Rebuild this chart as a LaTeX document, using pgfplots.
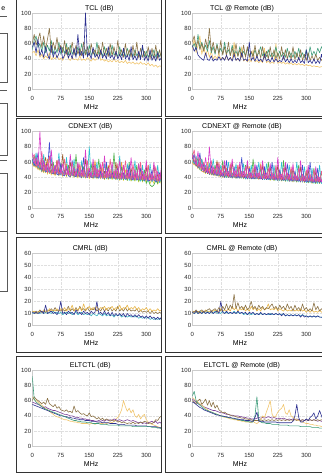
\documentclass[border=0pt]{standalone}
\usepackage{fontspec}
\setmainfont{Liberation Sans}
\usepackage{pgfplots}
\pgfplotsset{compat=1.18}
\usepackage{pgfplotstable}
\definecolor{cnavy}{HTML}{2C2F8F}
\definecolor{cbrown}{HTML}{8B7245}
\definecolor{cgreen}{HTML}{3E9C7A}
\definecolor{cyellow}{HTML}{F0C56C}
\definecolor{cpurple}{HTML}{7B3F98}
\definecolor{cmag}{HTML}{D83CC8}
\definecolor{cpink}{HTML}{EE5A8A}
\definecolor{ccyan}{HTML}{2CC0D0}
\definecolor{cgrn}{HTML}{4DB04A}
\definecolor{corange}{HTML}{F29A38}
\definecolor{cyel}{HTML}{E6D23C}
\definecolor{cblue}{HTML}{3F4FD0}
\definecolor{cbrn}{HTML}{9A5B2E}
\definecolor{cgold}{HTML}{E8B548}
\definecolor{cteal}{HTML}{3AB0C0}

\pgfplotstableread{
x a b c d
0 55 60 52 48
5 62 72 64 50
10 48 58 70 44
15 66 65 55 52
20 44 74 60 42
25 52 55 50 46
30 42 70 62 40
35 56 52 48 44
40 45 66 58 41
45 40 80 50 48
50 58 48 64 39
55 42 62 46 42
60 50 52 56 40
65 41 68 48 45
70 47 50 62 39
75 56 58 46 41
80 40 48 55 38
85 45 64 47 43
90 52 46 60 56
95 41 55 45 40
100 48 47 58 38
105 40 62 46 42
110 54 45 52 39
115 42 58 44 40
120 72 46 56 38
125 44 54 45 44
130 50 44 60 38
135 41 62 46 40
140 100 45 52 38
145 43 56 44 42
150 48 44 58 39
155 40 60 45 37
160 55 46 50 41
165 42 52 44 38
170 46 44 62 40
175 40 58 46 52
180 52 45 50 38
185 41 62 44 40
190 47 44 56 37
195 40 54 45 39
200 56 43 50 36
205 41 60 44 38
210 45 44 58 36
215 39 56 45 40
220 50 43 48 36
225 40 64 43 38
230 46 44 56 35
235 39 52 44 37
240 54 42 50 35
245 40 60 43 38
250 45 43 54 34
255 38 52 44 36
260 56 42 48 34
265 39 58 43 36
270 44 42 52 33
275 38 62 44 35
280 50 41 48 33
285 39 54 42 36
290 58 42 56 33
295 38 50 43 34
300 44 41 50 32
305 37 56 42 35
310 52 40 48 31
315 38 54 43 33
320 44 40 52 30
325 37 58 42 32
330 48 40 50 29
335 38 52 43 31
340 42 40 48 30
345 37 50 60 29
350 40 42 45 30
}\tclL

\pgfplotstableread{
x a b c d
0 58 62 55 52
5 50 70 60 66
10 55 56 52 48
15 45 64 72 58
20 42 52 54 70
25 40 60 62 46
30 38 50 52 56
35 48 66 58 44
40 39 54 50 52
45 38 80 64 42
50 44 50 48 50
55 37 62 56 40
60 40 48 46 44
65 38 58 60 40
70 43 46 48 47
75 38 64 54 39
80 42 45 46 42
85 38 56 62 39
90 45 44 47 44
95 38 62 52 38
100 42 44 45 41
105 37 54 58 38
110 46 43 46 62
115 38 60 50 38
120 41 43 44 40
125 37 52 56 37
130 48 42 45 56
135 38 58 50 37
140 40 42 44 40
145 37 56 54 36
150 62 42 44 40
155 38 50 48 36
160 42 42 44 52
165 37 58 52 36
170 44 41 44 38
175 37 52 48 35
180 40 41 56 38
185 36 56 44 35
190 46 41 48 54
195 37 50 43 35
200 40 40 52 37
205 36 56 43 34
210 42 40 48 36
215 36 52 43 34
220 40 40 56 60
225 36 48 43 34
230 38 40 50 36
235 36 56 43 34
240 44 40 48 36
245 36 52 42 33
250 40 40 54 35
255 35 50 42 33
260 40 39 48 35
265 35 56 42 32
270 38 39 50 34
275 35 48 42 32
280 42 39 54 34
285 35 52 42 32
290 38 38 48 33
295 34 46 42 31
300 52 38 52 33
305 35 48 42 31
310 38 38 56 32
315 34 44 44 30
320 40 38 50 31
325 34 46 44 30
330 38 38 54 30
335 34 42 48 29
340 46 38 56 30
345 34 42 50 29
350 38 38 52 30
}\tclR

\pgfplotstableread{
x a b c d e f g h
0 72 66 62 60 58 56 64 60
5 58 70 55 68 54 60 57 55
10 66 54 72 54 62 52 55 68
15 54 62 52 58 50 64 72 52
20 100 52 58 50 56 49 52 60
25 50 74 48 64 47 56 50 48
30 62 48 70 47 52 46 62 56
35 49 56 47 56 46 58 48 66
40 58 46 52 46 64 44 47 47
45 47 68 46 52 45 54 86 50
50 76 45 66 45 50 43 46 58
55 46 52 45 60 44 56 45 46
60 56 44 50 44 48 42 56 44
65 45 62 44 50 62 52 44 62
70 64 44 72 43 46 42 43 45
75 44 50 43 58 44 54 58 44
80 58 43 48 43 47 41 43 70
85 43 64 43 48 43 50 42 44
90 54 43 66 42 58 41 54 52
95 43 48 42 56 42 52 42 43
100 70 42 47 42 45 40 41 60
105 42 60 42 46 42 50 62 43
110 52 42 64 41 56 40 42 48
115 42 48 41 70 41 48 41 42
120 60 41 46 41 44 39 52 58
125 41 58 41 46 41 54 41 42
130 50 41 62 40 60 39 40 46
135 41 50 40 54 40 46 66 41
140 76 40 46 40 44 39 41 64
145 40 62 40 46 40 52 40 41
150 52 40 80 40 52 38 50 45
155 40 46 40 58 40 46 40 40
160 64 40 46 39 44 38 40 58
165 40 56 39 46 62 50 56 40
170 52 40 60 39 42 38 40 46
175 40 50 39 64 40 46 39 40
180 58 39 45 39 50 38 48 56
185 39 60 39 44 39 52 39 40
190 68 39 58 38 42 37 39 48
195 39 48 38 56 39 44 60 39
200 52 39 44 38 56 37 40 54
205 39 64 38 44 39 50 39 40
210 60 39 56 38 42 37 46 46
215 39 48 38 72 39 44 39 39
220 50 38 44 37 48 37 39 60
225 38 58 37 44 38 48 54 39
230 62 38 68 37 41 36 38 45
235 38 46 37 54 60 42 38 38
240 56 38 43 37 40 36 46 56
245 38 62 37 42 38 50 38 39
250 50 38 58 36 46 36 38 46
255 38 46 36 60 38 42 56 38
260 66 37 42 36 40 35 38 52
265 37 58 36 42 37 46 37 38
270 50 37 62 36 52 35 44 44
275 37 46 36 56 37 42 37 37
280 58 37 42 35 40 34 37 58
285 37 60 35 40 36 48 52 37
290 48 37 56 35 44 34 37 44
295 37 44 35 50 36 40 36 36
300 62 36 40 32 38 33 42 54
305 36 56 34 38 56 44 36 36
310 46 36 58 30 40 32 36 44
315 36 44 34 28 35 38 50 35
320 60 36 40 30 42 32 36 56
325 36 54 34 36 35 42 35 35
330 48 35 56 32 38 31 35 44
335 35 44 33 46 34 38 46 35
340 54 35 40 34 40 31 35 50
345 35 52 33 38 34 40 34 34
350 44 35 50 34 36 31 40 42
}\cdL

\pgfplotstableread{
x a b c d e f g h
0 70 66 62 72 60 58 64 68
5 62 76 58 60 56 62 70 58
10 56 58 68 55 64 54 56 62
15 74 54 54 66 52 58 54 52
20 52 66 52 50 60 50 72 56
25 58 50 64 49 48 56 49 64
30 48 60 48 58 47 48 58 47
35 66 47 56 46 54 45 46 52
40 46 54 46 52 45 60 50 45
45 80 45 58 44 52 44 44 58
50 45 62 44 50 43 48 56 44
55 54 44 64 43 48 43 43 50
60 44 52 43 56 42 54 48 43
65 58 43 50 42 60 42 42 62
70 43 60 42 48 41 46 56 42
75 50 42 56 41 46 41 41 48
80 42 56 41 62 40 52 46 41
85 62 42 48 40 44 40 40 56
90 42 50 40 46 52 44 62 40
95 48 41 60 40 42 40 40 46
100 41 58 40 54 40 50 44 40
105 64 41 46 40 44 39 39 60
110 41 48 40 46 40 46 54 40
115 50 40 58 39 42 39 39 44
120 40 56 39 52 56 44 42 39
125 60 40 44 39 40 39 39 56
130 40 48 39 46 40 48 66 39
135 48 40 58 39 42 38 39 44
140 40 54 38 56 40 44 42 38
145 62 39 44 38 40 38 38 58
150 39 46 38 44 54 46 52 38
155 46 39 56 38 40 38 38 44
160 39 52 38 64 39 42 40 38
165 58 39 44 38 42 38 38 54
170 39 46 38 44 39 46 56 38
175 46 38 60 38 40 37 38 42
180 38 56 38 52 58 42 40 38
185 62 38 44 37 40 37 37 56
190 38 46 37 44 39 50 54 37
195 46 38 58 37 40 37 37 42
200 38 52 37 60 38 42 40 37
205 58 38 44 37 42 36 37 54
210 38 46 37 44 38 46 60 37
215 44 37 56 36 40 36 37 42
220 37 56 36 50 52 42 40 37
225 66 37 42 36 38 36 36 56
230 37 46 36 44 38 48 50 36
235 44 37 60 36 38 35 36 42
240 37 52 36 62 37 40 38 36
245 60 37 42 35 40 35 36 54
250 37 46 35 42 37 44 58 36
255 44 36 56 35 38 35 35 42
260 36 54 35 50 50 40 38 35
265 58 36 42 35 38 34 35 52
270 36 44 35 42 36 46 48 35
275 42 36 60 34 38 34 35 40
280 36 52 34 56 36 40 38 35
285 62 35 42 34 38 34 34 54
290 35 44 34 40 36 44 56 34
295 42 35 54 34 36 33 34 40
300 35 50 33 46 48 38 36 34
305 56 35 40 33 36 33 34 50
310 35 44 33 40 35 42 60 34
315 40 34 52 33 36 32 33 40
320 34 50 32 52 35 38 36 33
325 54 34 40 32 36 32 33 48
330 34 42 32 40 35 40 52 33
335 40 34 56 32 36 32 33 38
340 34 48 32 48 34 38 36 33
345 50 34 40 32 36 31 33 46
350 34 42 32 40 34 36 48 33
}\cdR

\pgfplotstableread{
x a b c d
0 11 12 11 10
5 10 11 12 11
10 11 12 10 10
15 10 11 11 11
20 11 13 12 10
25 12 11 11 11
30 10 12 13 10
35 17 11 12 11
40 10 13 11 10
45 11 12 14 11
50 12 14 12 10
55 10 12 13 12
60 11 15 12 10
65 9 12 14 11
70 12 13 12 10
75 20 12 14 11
80 10 14 12 9
85 11 12 15 10
90 9 13 12 11
95 12 16 14 10
100 10 12 13 11
105 11 14 17 9
110 9 12 12 10
115 13 15 14 11
120 10 12 13 9
125 11 16 15 10
130 9 13 12 11
135 12 14 18 9
140 10 12 13 10
145 11 15 14 9
150 9 12 16 10
155 12 14 13 8
160 10 13 15 10
165 11 15 13 9
170 20 12 16 8
175 10 14 13 10
180 11 12 15 9
185 9 15 14 8
190 12 12 16 10
195 9 14 13 8
200 11 12 15 9
205 8 15 14 8
210 11 12 16 9
215 8 14 13 7
220 10 12 15 9
225 8 16 14 8
230 10 12 17 9
235 8 14 13 7
240 10 12 15 8
245 7 15 14 8
250 10 12 17 7
255 8 14 13 8
260 9 12 15 7
265 7 13 14 8
270 9 12 16 7
275 7 14 13 8
280 9 11 15 6
285 7 13 12 7
290 8 11 14 6
295 6 12 13 7
300 8 11 15 6
305 6 12 12 7
310 8 10 14 5
315 6 12 12 6
320 7 10 13 5
325 5 11 12 6
330 7 10 14 5
335 5 11 12 6
340 7 10 13 5
345 5 11 12 6
350 6 10 13 5
}\cmL

\pgfplotstableread{
x a b c d
0 11 12 10 11
5 10 11 12 10
10 12 13 11 11
15 10 11 12 10
20 11 12 10 12
25 10 13 12 10
30 12 11 11 11
35 10 12 13 10
40 11 13 11 12
45 10 14 12 10
50 12 12 11 11
55 10 13 12 10
60 11 14 13 12
65 12 12 11 10
70 10 15 12 11
75 20 12 14 10
80 11 16 12 12
85 10 13 13 10
90 12 18 12 11
95 10 13 14 10
100 11 17 12 11
105 10 14 16 10
110 11 26 13 12
115 10 14 15 10
120 12 19 12 11
125 10 14 14 10
130 11 16 13 11
135 10 13 15 9
140 11 17 12 10
145 9 13 14 9
150 11 15 12 10
155 10 20 16 9
160 11 14 13 10
165 9 16 15 9
170 10 13 12 10
175 9 17 14 9
180 11 14 12 10
185 9 16 15 9
190 10 13 13 10
195 9 15 14 9
200 10 14 18 9
205 9 16 13 10
210 10 18 14 9
215 9 14 13 9
220 10 16 15 10
225 9 13 12 9
230 10 17 14 9
235 8 14 13 9
240 10 16 12 10
245 8 13 14 8
250 9 18 12 9
255 8 14 13 8
260 9 16 12 9
265 8 12 14 8
270 9 17 12 9
275 8 13 13 8
280 9 15 12 9
285 7 12 14 8
290 9 18 12 9
295 7 13 13 8
300 8 15 11 8
305 7 12 13 7
310 8 14 11 8
315 7 12 13 7
320 8 19 11 8
325 7 13 12 7
330 8 16 11 8
335 7 12 13 7
340 7 14 11 7
345 6 12 12 6
350 7 13 11 7
}\cmR

\pgfplotstableread{
x a b c d e
0 92 60 55 58 65
5 62 65 54 57 62
10 58 62 53 56 60
15 56 60 52 55 58
20 54 58 51 54 56
25 52 56 50 52 54
30 50 58 49 51 52
35 49 55 48 52 50
40 48 63 47 50 48
45 47 56 46 49 46
50 46 54 45 48 44
55 45 52 44 47 42
60 44 55 43 47 40
65 43 50 42 46 39
70 42 52 41 45 38
75 41 48 40 44 37
80 40 47 40 43 36
85 39 46 39 42 35
90 38 48 39 42 35
95 37 45 38 41 34
100 36 46 38 40 33
105 35 44 37 40 33
110 34 53 37 39 32
115 34 45 36 38 32
120 33 47 36 38 31
125 33 44 35 37 31
130 32 42 35 37 30
135 32 43 35 36 30
140 32 41 34 36 30
145 31 40 34 35 30
150 31 44 34 35 29
155 31 39 33 34 30
160 30 40 33 34 30
165 30 38 33 33 29
170 30 36 32 33 30
175 30 38 32 34 31
180 29 35 32 33 30
185 29 37 31 34 30
190 29 34 31 33 31
195 29 36 31 35 30
200 28 35 31 34 31
205 28 33 30 35 32
210 28 35 30 34 31
215 28 33 30 36 33
220 28 34 30 35 36
225 28 32 29 34 38
230 27 33 29 35 42
235 27 31 29 34 48
240 27 32 29 33 60
245 27 31 28 34 52
250 27 30 28 35 46
255 27 31 28 34 50
260 27 30 28 33 44
265 26 32 28 34 48
270 26 30 28 33 40
275 26 31 27 32 38
280 26 30 27 31 42
285 26 32 27 32 36
290 26 31 27 30 40
295 26 33 27 31 42
300 26 32 27 30 35
305 26 30 26 31 32
310 26 31 26 32 30
315 25 30 26 33 29
320 25 32 26 31 28
325 25 35 26 33 27
330 24 34 25 30 26
335 24 38 25 32 25
340 23 40 25 30 24
345 23 42 25 33 23
350 22 38 24 31 22
}\elL

\pgfplotstableread{
x a b c d e
0 66 60 58 62 64
5 72 58 57 60 62
10 60 56 55 58 60
15 56 60 53 56 58
20 54 62 51 55 56
25 52 55 50 54 54
30 50 58 48 52 52
35 48 62 47 51 50
40 47 54 46 50 48
45 46 60 45 49 46
50 45 52 44 48 45
55 44 58 43 47 44
60 43 50 42 47 43
65 42 54 41 46 42
70 41 48 41 45 41
75 40 46 40 44 40
80 39 44 40 44 39
85 39 45 39 43 38
90 38 43 39 42 38
95 38 42 38 42 37
100 37 41 38 41 36
105 37 40 37 41 36
110 36 40 37 40 35
115 36 39 36 40 35
120 35 38 36 40 34
125 35 38 35 39 34
130 34 37 35 39 33
135 34 37 35 38 33
140 33 36 34 38 32
145 33 36 34 37 32
150 32 35 34 37 32
155 32 35 33 36 31
160 32 34 33 36 33
165 40 34 38 36 31
170 65 34 45 37 30
175 36 34 33 38 32
180 32 35 33 37 35
185 31 34 33 38 40
190 31 35 32 37 38
195 30 34 32 38 45
200 30 35 32 39 52
205 30 34 32 38 60
210 29 35 32 37 42
215 29 34 32 38 38
220 29 35 32 37 40
225 29 34 31 36 45
230 28 35 31 37 48
235 28 34 31 36 50
240 28 35 31 37 55
245 28 34 31 36 44
250 28 35 31 35 42
255 27 34 31 36 48
260 27 35 31 35 40
265 27 34 33 36 38
270 27 35 40 35 36
275 27 34 55 36 35
280 27 35 38 35 34
285 26 34 32 34 33
290 26 35 32 35 32
295 26 34 34 34 31
300 26 35 36 35 30
305 26 34 34 34 30
310 26 35 38 35 29
315 25 34 40 34 29
320 25 35 44 35 28
325 25 34 36 34 28
330 25 35 40 33 27
335 24 34 47 34 27
340 24 35 40 33 26
345 24 34 34 32 26
350 23 35 36 32 25
}\elR

\pgfplotsset{
  base/.style={
    anchor=south west, scale only axis, width=136.8pt, height=76.5pt,
    xmin=0, xmax=360, ymin=0, ymax=100,
    xtick={0,75,150,225,300}, ytick={0,20,40,60,80,100},
    grid=major, major grid style={gray!25, densely dotted, line width=0.4pt},
    axis line style={gray!40, line width=0.4pt},
    major tick length=0pt,
    tick label style={font=\fontsize{6}{7}\selectfont, text=black!85},
    xticklabel style={yshift=-3pt},
    yticklabel style={inner sep=1pt},
    /pgf/number format/assume math mode=true,
    xlabel={MHz},
    xlabel style={font=\fontsize{7}{8}\selectfont, anchor=north, inner sep=0pt, yshift=-14.5pt},
    title style={font=\fontsize{7}{8}\selectfont, anchor=south, inner sep=1pt, yshift=-6pt},
    every axis plot/.append style={line width=0.6pt, mark=none, line join=round},
  },
  lcol/.style={base, title style={at={(axis description cs:#1,1)}}, xlabel style={at={(axis description cs:0.43,0)}}},
  rcol/.style={base, title style={at={(axis description cs:0.363,1)}}, xlabel style={at={(axis description cs:0.349,0)}}},
  cmrl/.style={ymax=60, ytick={0,10,20,30,40,50,60}, height=72pt},
}

\begin{document}
\begin{tikzpicture}
\path[use as bounding box] (0pt,0pt) rectangle (321pt,473pt);
% left strip (partial panels)
\begin{scope}[draw=black!65, line width=0.6pt]
\draw (0pt,457pt) -- (7pt,457pt);
\draw (0pt,440pt) -- (7pt,440pt) -- (7pt,391pt) -- (0pt,391pt);
\draw (0pt,383pt) -- (7pt,383pt);
\draw (0pt,370pt) -- (7pt,370pt) -- (7pt,318pt) -- (0pt,318pt);
\draw (0pt,313pt) -- (7pt,313pt);
\draw (0pt,300pt) -- (7pt,300pt) -- (7pt,182pt) -- (0pt,182pt);
\draw (0pt,242pt) -- (7pt,242pt);
\end{scope}
\node[anchor=base east, font=\fontsize{7}{8}\selectfont, inner sep=0pt] at (5.5pt,462pt) {e};

% left column
\begin{scope}
\clip (16.3pt,0pt) rectangle (161.3pt,473pt);
\begin{axis}[lcol=0.49, at={(32.3pt,383.5pt)}, title={TCL (dB)}]
\addplot[cyellow] table[x=x,y=d]{\tclL};
\addplot[cgreen] table[x=x,y=c]{\tclL};
\addplot[cbrown] table[x=x,y=b]{\tclL};
\addplot[cnavy] table[x=x,y=a]{\tclL};
\end{axis}
\begin{axis}[lcol=0.424, at={(32.3pt,265pt)}, title={CDNEXT (dB)}]
\addplot[cyel] table[x=x,y=f]{\cdL};
\addplot[corange] table[x=x,y=e]{\cdL};
\addplot[cgrn] table[x=x,y=d]{\cdL};
\addplot[cbrn] table[x=x,y=h]{\cdL};
\addplot[ccyan] table[x=x,y=c]{\cdL};
\addplot[cblue] table[x=x,y=g]{\cdL};
\addplot[cpink] table[x=x,y=b]{\cdL};
\addplot[cmag] table[x=x,y=a]{\cdL};
\end{axis}
\begin{axis}[lcol=0.424, cmrl, at={(32.3pt,147.5pt)}, title={CMRL (dB)}]
\addplot[cteal] table[x=x,y=d]{\cmL};
\addplot[cbrown] table[x=x,y=b]{\cmL};
\addplot[cgold] table[x=x,y=c]{\cmL};
\addplot[cnavy] table[x=x,y=a]{\cmL};
\end{axis}
\begin{axis}[lcol=0.424, at={(32.3pt,26.5pt)}, title={ELTCTL (dB)}]
\addplot[cyellow] table[x=x,y=e]{\elL};
\addplot[cnavy] table[x=x,y=c]{\elL};
\addplot[cpurple] table[x=x,y=d]{\elL};
\addplot[cbrown] table[x=x,y=b]{\elL};
\addplot[cgreen] table[x=x,y=a]{\elL};
\end{axis}
\end{scope}

% right column
\begin{axis}[rcol, at={(192.3pt,383.5pt)}, title={TCL @ Remote (dB)}]
\addplot[cyellow] table[x=x,y=d]{\tclR};
\addplot[cgreen] table[x=x,y=c]{\tclR};
\addplot[cbrown] table[x=x,y=b]{\tclR};
\addplot[cnavy] table[x=x,y=a]{\tclR};
\end{axis}
\begin{axis}[rcol, at={(192.3pt,265pt)}, title={CDNEXT @ Remote (dB)}]
\addplot[cyel] table[x=x,y=f]{\cdR};
\addplot[corange] table[x=x,y=e]{\cdR};
\addplot[cgrn] table[x=x,y=d]{\cdR};
\addplot[cbrn] table[x=x,y=h]{\cdR};
\addplot[ccyan] table[x=x,y=c]{\cdR};
\addplot[cblue] table[x=x,y=g]{\cdR};
\addplot[cpink] table[x=x,y=b]{\cdR};
\addplot[cmag] table[x=x,y=a]{\cdR};
\end{axis}
\begin{axis}[rcol, cmrl, at={(192.3pt,147.5pt)}, title={CMRL @ Remote (dB)}]
\addplot[cteal] table[x=x,y=d]{\cmR};
\addplot[cgold] table[x=x,y=c]{\cmR};
\addplot[cnavy] table[x=x,y=a]{\cmR};
\addplot[cbrown] table[x=x,y=b]{\cmR};
\end{axis}
\begin{axis}[rcol, at={(192.3pt,26.5pt)}, title={ELTCTL @ Remote (dB)}]
\addplot[cpurple] table[x=x,y=d]{\elR};
\addplot[cbrown] table[x=x,y=b]{\elR};
\addplot[cyellow] table[x=x,y=e]{\elR};
\addplot[cgreen] table[x=x,y=a]{\elR};
\addplot[cnavy] table[x=x,y=c]{\elR};
\end{axis}

% panel frames
\begin{scope}[draw=black!80, line width=0.7pt]
\draw (16.3pt,476pt) rectangle (161.3pt,356.2pt);
\draw (16.3pt,354.5pt) rectangle (161.3pt,240pt);
\draw (16.3pt,235.3pt) rectangle (161.3pt,120.7pt);
\draw (16.3pt,117pt) rectangle (161.3pt,0.7pt);
\draw (165pt,476pt) rectangle (340pt,356.2pt);
\draw (165pt,354.5pt) rectangle (340pt,240pt);
\draw (165pt,235.3pt) rectangle (340pt,120.7pt);
\draw (165pt,117pt) rectangle (340pt,0.7pt);
\end{scope}
\end{tikzpicture}
\end{document}
